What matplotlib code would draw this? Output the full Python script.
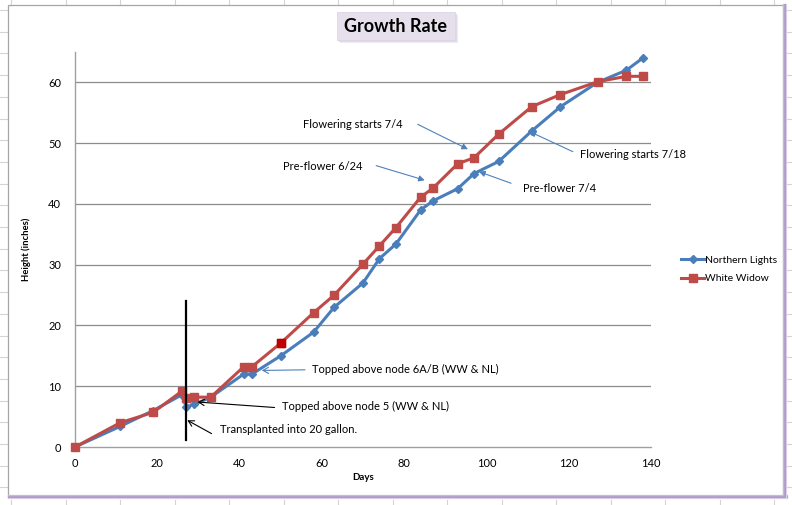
import matplotlib
matplotlib.use("Agg")
import matplotlib.pyplot as plt
from matplotlib.lines import Line2D
from matplotlib.patches import Rectangle

plt.rcParams['font.family'] = ['Lato', 'DejaVu Sans']

# ---------------- data ----------------
days = [0, 11, 19, 26, 27, 29, 33, 41, 43, 50, 58, 63, 70, 74, 78, 84, 87, 93, 97, 103, 111, 118, 127, 134, 138]
northern_lights = [0, 3.4, 6.0, 8.6, 6.6, 7.0, 8.2, 12.0, 12.0, 15.0, 18.9, 23.0, 27.0, 31.0, 33.4, 39.0,
                   40.5, 42.5, 45.0, 47.0, 52.0, 56.0, 60.0, 62.0, 64.0]
white_widow = [0, 4.0, 5.7, 9.2, 8.0, 8.2, 8.2, 13.2, 13.2, 17.1, 22.1, 25.0, 30.1, 33.1, 36.1, 41.1,
               42.6, 46.6, 47.6, 51.5, 56.0, 58.0, 60.1, 61.0, 61.0]
highlight_index = 9  # White Widow point drawn in dark red

series_names = ["Northern Lights", "White Widow"]
x_ticks = [0, 20, 40, 60, 80, 100, 120, 140]
y_ticks = [0, 10, 20, 30, 40, 50, 60]

transplant_day = 26.9
transplant_line_range = (1.1, 24.0)

# (text, text position, arrow start, arrow tip, colour, head style)
annotations = [
    ("Flowering starts 7/4", (55.3, 53.0), (83.3, 53.1), (95.5, 49.0), "#4F81BD", "-|>"),
    ("Pre-flower 6/24", (50.6, 46.2), (73.2, 46.3), (85.0, 43.9), "#4F81BD", "-|>"),
    ("Flowering starts 7/18", (122.8, 48.1), (121.0, 48.6), (110.5, 51.9), "#4F81BD", "-|>"),
    ("Pre-flower 7/4", (108.8, 42.6), (106.0, 43.4), (98.2, 45.3), "#4F81BD", "-|>"),
    ("Topped above node 6A/B (WW & NL)", (57.7, 12.8), (55.9, 12.7), (45.4, 12.6), "#4F81BD", "->"),
    ("Topped above node 5 (WW & NL)", (50.4, 6.6), (48.5, 6.5), (29.8, 7.4), "black", "->"),
    ("Transplanted into 20 gallon.", (35.2, 2.9), (33.2, 2.2), (27.3, 4.4), "black", "->"),
]

blue = "#4A7EBB"
red = "#BE4B48"
dark_red = "#C00000"

# ---------------- figure ----------------
W, H = 792, 505
fig = plt.figure(figsize=(W / 100, H / 100), dpi=100)

# spreadsheet cell lines in the background (decoration)
cell_grey = "#D4D4D4"
for k in range(24):
    yy = 1 - (10 + 21.7 * k) / H
    if yy < 0:
        break
    fig.add_artist(Line2D([0, 7 / W], [yy, yy], transform=fig.transFigure, color=cell_grey, lw=0.8, zorder=-3))
    fig.add_artist(Line2D([787 / W, 1], [yy, yy], transform=fig.transFigure, color=cell_grey, lw=0.8, zorder=-3))
for k in range(-6, 9):
    xx = (338 + 54.5 * k) / W
    if 0 <= xx <= 1:
        fig.add_artist(Line2D([xx, xx], [1, 1 - 4 / H], transform=fig.transFigure, color=cell_grey, lw=0.8, zorder=-3))
        fig.add_artist(Line2D([xx, xx], [0, 5 / H], transform=fig.transFigure, color=cell_grey, lw=0.8, zorder=-3))

# chart area
fig.add_artist(Rectangle((7.5 / W, 1 - 497 / H), (783 - 7.5) / W, (497 - 4.5) / H,
                         transform=fig.transFigure, facecolor="white", edgecolor="#A6A6A6", lw=0.9, zorder=-2))
# purple shadow right & bottom
for i, c in enumerate(["#C9BCDB", "#B7A6CF", "#A893C4", "#D9D0E6"]):
    fig.add_artist(Line2D([(783 + i) / W] * 2, [1 - 497 / H, 1 - 4 / H], transform=fig.transFigure,
                          color=c, lw=0.9, zorder=-1))
    fig.add_artist(Line2D([7.5 / W, 787 / W], [1 - (495 + i) / H] * 2, transform=fig.transFigure,
                          color=c, lw=0.9, zorder=-1))

# soft title box shadow
for off, c in [(3, "#EEEAF3"), (2, "#E2DBEA")]:
    fig.add_artist(Rectangle(((337 + off) / W, 1 - (40 + off) / H), 118 / W, 28 / H, transform=fig.transFigure,
                             facecolor=c, edgecolor="none", zorder=-0.5))

ax = fig.add_axes([75 / W, 1 - 447 / H, 576 / W, 395 / H])
ax.set_facecolor("none")
ax.set_xlim(0, 140)
ax.set_ylim(0, 65)
ax.set_xticks(x_ticks)
ax.set_yticks(y_ticks)
ax.tick_params(length=0, labelsize=8, colors="black")
ax.tick_params(axis="y", pad=10)
ax.tick_params(axis="x", pad=8)
for s in ["top", "right"]:
    ax.spines[s].set_visible(False)
for s in ["left", "bottom"]:
    ax.spines[s].set_color("#A0A0A0")
    ax.spines[s].set_linewidth(1.0)
for yv in y_ticks[1:]:
    ax.axhline(yv, color="#8C8C8C", lw=0.9, zorder=0.8)

ax.plot(days, northern_lights, color=blue, lw=2.2, marker="D", markersize=4,
        markeredgecolor=blue, markerfacecolor=blue, label=series_names[0], zorder=3, clip_on=False)
ax.plot(days, white_widow, color=red, lw=2.2, marker="s", markersize=5.8,
        markeredgecolor=red, markerfacecolor=red, label=series_names[1], zorder=4, clip_on=False)
ax.plot([days[highlight_index]], [white_widow[highlight_index]], marker="s", markersize=5.8,
        color=dark_red, linestyle="none", zorder=5)

ax.plot([transplant_day, transplant_day], list(transplant_line_range), color="black", lw=1.6, zorder=6)

for text, tpos, start, tip, col, style in annotations:
    ax.text(tpos[0], tpos[1], text, fontsize=8, va="center", ha="left", zorder=7)
    head = ",head_length=0.35,head_width=0.18" if style == "-|>" else ",head_length=0.4,head_width=0.22"
    ax.annotate("", xy=tip, xytext=start,
                arrowprops=dict(arrowstyle=style + head, color=col, lw=0.8, shrinkA=0, shrinkB=0), zorder=7)

ax.set_xlabel("Days", fontsize=7, fontweight="bold", labelpad=3)
ax.set_ylabel("Height (inches)", fontsize=6.8, fontweight="bold", labelpad=12)

leg = ax.legend(loc="center left", bbox_to_anchor=(1.045, 0.45), frameon=False, fontsize=7.5,
                handlelength=2.2, handletextpad=0.1, labelspacing=0.9, borderaxespad=0)

fig.add_artist(Rectangle((337 / W, 1 - 40 / H), 118 / W, 28 / H, transform=fig.transFigure,
                         facecolor="#E6E0EC", edgecolor="#DCD4E6", lw=0.6, zorder=-0.4))
fig.text(396 / W, 1 - 26 / H, "Growth Rate", fontsize=13, fontweight="bold", ha="center", va="center")

fig.savefig("out.png", dpi=100)
